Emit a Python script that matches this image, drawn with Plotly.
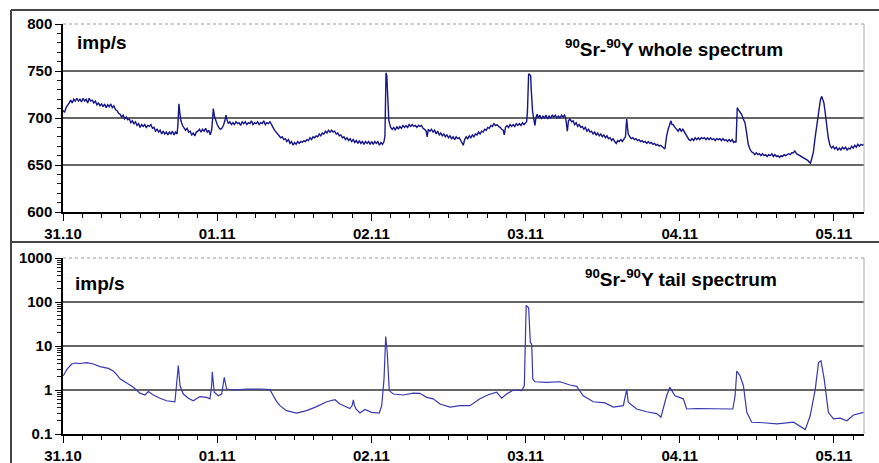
import pandas as pd
import plotly.graph_objects as go

# ---- data: time in days since 31.10 00:00, counts in imp/s ----
start_date = "2009-10-31"
n_days_shown = 5.195
day_fmt = "%d.%m"

# 90Sr-90Y whole spectrum (day, imp/s)
whole_series = [
    (0.000, 708), (0.010, 706), (0.020, 711), (0.030, 713), (0.040, 716), (0.050, 719),
    (0.060, 716), (0.070, 720), (0.080, 718), (0.090, 721), (0.100, 718), (0.110, 720),
    (0.120, 717), (0.130, 721), (0.140, 718), (0.150, 720), (0.160, 716), (0.170, 721),
    (0.180, 718), (0.190, 719), (0.200, 716), (0.210, 718), (0.220, 714), (0.230, 716),
    (0.240, 713), (0.250, 715), (0.260, 712), (0.270, 715), (0.280, 711), (0.290, 714),
    (0.300, 712), (0.310, 715), (0.320, 711), (0.330, 713), (0.340, 709), (0.350, 708),
    (0.360, 705), (0.370, 704), (0.380, 701), (0.390, 703), (0.400, 699), (0.410, 701),
    (0.420, 698), (0.430, 699), (0.440, 695), (0.450, 697), (0.460, 694), (0.470, 696),
    (0.480, 692), (0.490, 694), (0.500, 690), (0.510, 693), (0.520, 691), (0.530, 693),
    (0.540, 690), (0.550, 692), (0.560, 691), (0.570, 693), (0.580, 689), (0.590, 690),
    (0.600, 686), (0.610, 688), (0.620, 685), (0.630, 687), (0.640, 683), (0.650, 686),
    (0.660, 683), (0.670, 685), (0.680, 682), (0.690, 685), (0.700, 683), (0.710, 686),
    (0.720, 682), (0.730, 685), (0.740, 683), (0.745, 692), (0.752, 715), (0.758, 705),
    (0.765, 697), (0.775, 692), (0.785, 690), (0.795, 687), (0.805, 689), (0.815, 685),
    (0.825, 686), (0.835, 682), (0.845, 684), (0.855, 681), (0.865, 685), (0.875, 686),
    (0.885, 688), (0.895, 685), (0.905, 688), (0.915, 686), (0.925, 689), (0.935, 685),
    (0.945, 687), (0.955, 682), (0.965, 688), (0.970, 700), (0.975, 710), (0.982, 702),
    (0.990, 697), (1.000, 693), (1.010, 690), (1.020, 688), (1.030, 689), (1.040, 692),
    (1.050, 697), (1.057, 703), (1.064, 698), (1.072, 694), (1.082, 696), (1.092, 693),
    (1.102, 695), (1.112, 693), (1.122, 696), (1.132, 694), (1.142, 695), (1.152, 692),
    (1.162, 696), (1.172, 694), (1.182, 696), (1.192, 693), (1.202, 695), (1.212, 694),
    (1.222, 697), (1.232, 693), (1.242, 695), (1.252, 694), (1.262, 696), (1.272, 693),
    (1.282, 695), (1.292, 694), (1.302, 697), (1.312, 693), (1.322, 695), (1.332, 694),
    (1.342, 696), (1.352, 692), (1.362, 690), (1.372, 687), (1.382, 685), (1.392, 683),
    (1.402, 681), (1.412, 679), (1.422, 680), (1.432, 677), (1.442, 678), (1.452, 675),
    (1.462, 677), (1.472, 673), (1.482, 675), (1.492, 671), (1.502, 674), (1.512, 672),
    (1.522, 675), (1.532, 673), (1.542, 675), (1.552, 674), (1.562, 676), (1.572, 675),
    (1.582, 677), (1.592, 676), (1.602, 679), (1.612, 677), (1.622, 680), (1.632, 679),
    (1.642, 681), (1.652, 680), (1.662, 683), (1.672, 681), (1.682, 684), (1.692, 683),
    (1.702, 686), (1.712, 684), (1.722, 687), (1.732, 685), (1.742, 687), (1.752, 685),
    (1.762, 686), (1.772, 683), (1.782, 684), (1.792, 681), (1.802, 682), (1.812, 679),
    (1.822, 680), (1.832, 677), (1.842, 679), (1.852, 676), (1.862, 678), (1.872, 675),
    (1.882, 677), (1.892, 674), (1.902, 676), (1.912, 673), (1.922, 676), (1.932, 673),
    (1.942, 675), (1.952, 672), (1.962, 675), (1.972, 673), (1.982, 675), (1.992, 672),
    (2.002, 675), (2.012, 672), (2.022, 675), (2.032, 673), (2.042, 675), (2.052, 671),
    (2.062, 674), (2.072, 672), (2.082, 675), (2.088, 681), (2.092, 720), (2.095, 748),
    (2.100, 745), (2.104, 728), (2.108, 710), (2.113, 698), (2.118, 694), (2.125, 690),
    (2.135, 688), (2.145, 690), (2.155, 687), (2.165, 691), (2.175, 688), (2.185, 691),
    (2.195, 689), (2.205, 692), (2.215, 690), (2.225, 692), (2.235, 690), (2.245, 693),
    (2.255, 691), (2.265, 693), (2.275, 691), (2.285, 692), (2.295, 690), (2.305, 692),
    (2.315, 691), (2.325, 692), (2.335, 689), (2.345, 688), (2.355, 686), (2.362, 680),
    (2.369, 688), (2.380, 686), (2.390, 688), (2.400, 685), (2.410, 687), (2.420, 683),
    (2.430, 686), (2.440, 682), (2.450, 684), (2.460, 681), (2.470, 683), (2.480, 680),
    (2.490, 682), (2.500, 679), (2.510, 681), (2.520, 678), (2.530, 680), (2.540, 677),
    (2.550, 680), (2.560, 678), (2.570, 679), (2.580, 676), (2.590, 674), (2.596, 671),
    (2.605, 677), (2.615, 680), (2.625, 678), (2.635, 681), (2.645, 679), (2.655, 682),
    (2.665, 680), (2.675, 683), (2.685, 682), (2.695, 685), (2.705, 683), (2.715, 686),
    (2.725, 685), (2.735, 688), (2.745, 687), (2.755, 690), (2.765, 689), (2.775, 692),
    (2.785, 691), (2.795, 694), (2.805, 692), (2.815, 693), (2.825, 691), (2.835, 690),
    (2.845, 688), (2.855, 687), (2.862, 682), (2.870, 690), (2.880, 692), (2.890, 690),
    (2.900, 693), (2.910, 691), (2.920, 693), (2.930, 691), (2.940, 694), (2.950, 692),
    (2.960, 694), (2.970, 692), (2.980, 695), (2.990, 693), (3.000, 695), (3.007, 696),
    (3.012, 706), (3.017, 740), (3.020, 747), (3.027, 746), (3.033, 745), (3.037, 730),
    (3.040, 716), (3.045, 708), (3.050, 702), (3.055, 695), (3.061, 692), (3.067, 700),
    (3.075, 704), (3.083, 700), (3.093, 703), (3.103, 699), (3.113, 702), (3.123, 700),
    (3.133, 703), (3.143, 699), (3.153, 702), (3.163, 700), (3.173, 703), (3.183, 701),
    (3.193, 703), (3.203, 700), (3.213, 702), (3.223, 700), (3.233, 703), (3.243, 701),
    (3.253, 703), (3.260, 700), (3.266, 688), (3.271, 686), (3.278, 697), (3.288, 699),
    (3.298, 696), (3.308, 697), (3.318, 693), (3.328, 695), (3.338, 691), (3.348, 693),
    (3.358, 690), (3.368, 691), (3.378, 688), (3.388, 690), (3.398, 686), (3.408, 688),
    (3.418, 685), (3.428, 686), (3.438, 683), (3.448, 685), (3.458, 682), (3.468, 684),
    (3.478, 681), (3.488, 683), (3.498, 680), (3.508, 682), (3.518, 679), (3.528, 681),
    (3.538, 678), (3.548, 679), (3.558, 676), (3.568, 678), (3.578, 675), (3.588, 673),
    (3.598, 676), (3.608, 675), (3.618, 677), (3.628, 675), (3.640, 678), (3.648, 680),
    (3.652, 690), (3.656, 699), (3.661, 690), (3.666, 683), (3.676, 680), (3.686, 678),
    (3.696, 679), (3.706, 677), (3.716, 678), (3.726, 676), (3.736, 677), (3.746, 675),
    (3.756, 676), (3.766, 674), (3.776, 675), (3.786, 673), (3.796, 675), (3.806, 673),
    (3.816, 674), (3.826, 672), (3.836, 673), (3.846, 671), (3.856, 672), (3.866, 670),
    (3.876, 671), (3.886, 669), (3.896, 668), (3.904, 667), (3.910, 675), (3.915, 681),
    (3.925, 688), (3.935, 694), (3.943, 697), (3.950, 693), (3.958, 693), (3.969, 690),
    (3.980, 688), (3.990, 686), (4.000, 689), (4.010, 686), (4.020, 688), (4.030, 685),
    (4.040, 683), (4.050, 679), (4.060, 677), (4.070, 676), (4.080, 678), (4.090, 676),
    (4.100, 679), (4.110, 677), (4.120, 679), (4.130, 677), (4.140, 679), (4.150, 678),
    (4.160, 679), (4.170, 677), (4.180, 679), (4.190, 677), (4.200, 679), (4.210, 677),
    (4.220, 678), (4.230, 676), (4.240, 678), (4.250, 677), (4.260, 678), (4.270, 676),
    (4.280, 678), (4.290, 676), (4.300, 677), (4.310, 675), (4.320, 677), (4.330, 675),
    (4.340, 677), (4.350, 674), (4.360, 675), (4.365, 674), (4.369, 700), (4.373, 711),
    (4.380, 709), (4.390, 706), (4.401, 704), (4.412, 699), (4.423, 695), (4.433, 685),
    (4.444, 672), (4.455, 667), (4.466, 664), (4.477, 663), (4.487, 661), (4.497, 663),
    (4.507, 661), (4.517, 662), (4.527, 660), (4.537, 662), (4.547, 660), (4.557, 661),
    (4.567, 659), (4.577, 661), (4.587, 660), (4.597, 662), (4.607, 659), (4.617, 661),
    (4.627, 659), (4.637, 660), (4.647, 658), (4.657, 660), (4.667, 659), (4.677, 661),
    (4.687, 660), (4.697, 661), (4.707, 662), (4.717, 661), (4.727, 663), (4.737, 663),
    (4.747, 665), (4.757, 662), (4.767, 661), (4.780, 660), (4.790, 659), (4.800, 658),
    (4.810, 657), (4.820, 656), (4.830, 655), (4.840, 653), (4.848, 652), (4.858, 658),
    (4.867, 664), (4.877, 678), (4.888, 692), (4.897, 705), (4.905, 713), (4.913, 720),
    (4.921, 723), (4.928, 719), (4.935, 716), (4.944, 705), (4.953, 692), (4.963, 679),
    (4.974, 671), (4.985, 668), (4.995, 670), (5.005, 667), (5.015, 669), (5.025, 666),
    (5.035, 668), (5.045, 666), (5.055, 669), (5.065, 667), (5.075, 669), (5.085, 666),
    (5.095, 668), (5.105, 667), (5.115, 670), (5.125, 668), (5.135, 671), (5.145, 669),
    (5.155, 672), (5.165, 670), (5.175, 672), (5.185, 671), (5.195, 672),
]

# 90Sr-90Y tail spectrum (day, imp/s)
tail_series = [
    (0.002, 2.1), (0.024, 2.9), (0.056, 3.9), (0.080, 4.1), (0.110, 4.0), (0.154, 4.2),
    (0.197, 3.9), (0.240, 3.4), (0.294, 3.1), (0.326, 2.7), (0.350, 2.2), (0.370, 1.8),
    (0.413, 1.44), (0.456, 1.15), (0.499, 0.85), (0.532, 0.77), (0.553, 0.92), (0.586, 0.77),
    (0.629, 0.65), (0.672, 0.57), (0.726, 0.54), (0.737, 1.25), (0.748, 3.6), (0.759, 1.25),
    (0.780, 0.81), (0.813, 0.65), (0.845, 0.57), (0.888, 0.71), (0.932, 0.68), (0.953, 0.63),
    (0.964, 1.25), (0.968, 2.6), (0.981, 0.89), (1.007, 0.74), (1.029, 0.81), (1.046, 1.94),
    (1.061, 1.05), (1.105, 1.0), (1.191, 1.05), (1.278, 1.05), (1.342, 1.02), (1.364, 0.74),
    (1.385, 0.55), (1.407, 0.44), (1.450, 0.34), (1.515, 0.30), (1.580, 0.34), (1.645, 0.42),
    (1.710, 0.54), (1.764, 0.60), (1.796, 0.48), (1.861, 0.38), (1.876, 0.45), (1.883, 0.60),
    (1.890, 0.45), (1.900, 0.37), (1.926, 0.30), (1.958, 0.36), (2.002, 0.31), (2.051, 0.30),
    (2.067, 0.44), (2.082, 1.77), (2.093, 16.4), (2.103, 7.1), (2.116, 0.97), (2.142, 0.81),
    (2.207, 0.77), (2.272, 0.85), (2.315, 0.84), (2.358, 0.68), (2.401, 0.63), (2.445, 0.48),
    (2.510, 0.41), (2.575, 0.44), (2.639, 0.44), (2.704, 0.63), (2.758, 0.78), (2.812, 0.89),
    (2.845, 0.65), (2.877, 0.81), (2.921, 1.0), (2.975, 0.97), (2.992, 1.25), (3.004, 84),
    (3.020, 74), (3.031, 12), (3.040, 11), (3.047, 1.77), (3.061, 1.54), (3.136, 1.49),
    (3.223, 1.54), (3.288, 1.30), (3.332, 1.21), (3.374, 0.74), (3.439, 0.54), (3.515, 0.51),
    (3.569, 0.41), (3.634, 0.44), (3.656, 1.02), (3.666, 0.53), (3.720, 0.37), (3.785, 0.32),
    (3.850, 0.29), (3.878, 0.24), (3.915, 0.74), (3.936, 1.15), (3.969, 0.74), (4.023, 0.63),
    (4.045, 0.37), (4.110, 0.38), (4.218, 0.38), (4.283, 0.37), (4.344, 0.37), (4.359, 0.74),
    (4.370, 2.7), (4.391, 2.1), (4.413, 1.25), (4.435, 0.31), (4.467, 0.185), (4.543, 0.18),
    (4.630, 0.17), (4.738, 0.185), (4.770, 0.16), (4.814, 0.126), (4.846, 0.26), (4.879, 1.05),
    (4.900, 4.2), (4.916, 4.6), (4.937, 1.77), (4.964, 0.31), (4.997, 0.22), (5.040, 0.23),
    (5.084, 0.20), (5.127, 0.27), (5.192, 0.31),
]

top_grid = [650, 700, 750]
tail_grid = [1, 10, 100]

base = pd.Timestamp(start_date)
def to_time(days):
    return [base + pd.to_timedelta(d, unit="D") for d in days]

whole_days = [d for d, _ in whole_series]
whole_cps = [v for _, v in whole_series]
tail_days = [d for d, _ in tail_series]
tail_cps = [v for _, v in tail_series]

W, H = 879, 463
X0, X1 = 63, 864
TOP_Y0, TOP_Y1 = 24, 212
BOT_Y0, BOT_Y1 = 258, 434

def py(p):
    return 1 - p / H

fnt = "Liberation Sans, Arial, sans-serif"

fig = go.Figure()
fig.add_trace(go.Scatter(x=to_time(whole_days), y=whole_cps, mode="lines",
                         line=dict(color="#15158a", width=1.4),
                         xaxis="x", yaxis="y", showlegend=False))
fig.add_trace(go.Scatter(x=to_time(tail_days), y=tail_cps, mode="lines",
                         line=dict(color="#3838b0", width=1.2),
                         xaxis="x2", yaxis="y2", showlegend=False))

x_end = base + pd.to_timedelta(n_days_shown, unit="D")
xcommon = dict(type="date", range=[base, x_end], domain=[X0 / W, X1 / W],
               tickmode="linear", tick0=base, dtick=86400000, tickformat=day_fmt,
               ticks="outside", ticklen=7, tickwidth=1.3,
               tickcolor="black", showline=True, linecolor="black", linewidth=1.5,
               showgrid=False, zeroline=False, automargin=False,
               minor=dict(dtick=3 * 3600 * 1000, tick0=base, ticks="outside", ticklen=4,
                          tickcolor="black", tickwidth=1, showgrid=False),
               tickfont=dict(family=fnt, size=15, color="black", weight="bold"))

fig.update_layout(
    width=W, height=H, margin=dict(l=0, r=0, t=0, b=0, pad=0),
    paper_bgcolor="white", plot_bgcolor="white",
    xaxis=dict(anchor="y", **xcommon),
    xaxis2=dict(anchor="y2", **xcommon),
    yaxis=dict(anchor="x", range=[600, 800], domain=[py(TOP_Y1), py(TOP_Y0)],
               tickmode="linear", tick0=600, dtick=50, ticks="outside", ticklen=6,
               tickwidth=1.3,
               tickcolor="black", showline=True, linecolor="black", linewidth=1.5,
               showgrid=False, zeroline=False, automargin=False,
               minor=dict(dtick=10, ticks="outside", ticklen=4, tickcolor="#222",
                          tickwidth=1, showgrid=False),
               tickfont=dict(family=fnt, size=15, color="black", weight="bold")),
    yaxis2=dict(anchor="x2", type="log", range=[-1, 3],
                domain=[py(BOT_Y1), py(BOT_Y0)],
                tickmode="linear", tick0=0, dtick=1, exponentformat="none",
                ticks="outside", ticklen=6, tickwidth=1.3, tickcolor="black", showline=True,
                linecolor="black", linewidth=1.5, showgrid=False, zeroline=False,
                automargin=False,
                minor=dict(ticks="outside", ticklen=4, tickcolor="#222", tickwidth=1,
                           showgrid=False, dtick="D1"),
                tickfont=dict(family=fnt, size=15, color="black", weight="bold")),
)

shapes = []
for v in top_grid:
    shapes.append(dict(type="line", xref="x domain", x0=0, x1=1, yref="y", y0=v, y1=v,
                       line=dict(color="#333", width=1.5), layer="below"))
for v in tail_grid:
    shapes.append(dict(type="line", xref="x2 domain", x0=0, x1=1, yref="y2", y0=v, y1=v,
                       line=dict(color="#333", width=1.5), layer="below"))
for xa, ya in (("x", "y"), ("x2", "y2")):
    shapes.append(dict(type="line", xref=xa + " domain", x0=0, x1=1, yref=ya + " domain",
                       y0=1, y1=1, line=dict(color="#999", width=1, dash="dot")))
    shapes.append(dict(type="line", xref=xa + " domain", x0=1, x1=1, yref=ya + " domain",
                       y0=0, y1=1, line=dict(color="#aaa", width=1)))
# outer frame
shapes.append(dict(type="line", xref="paper", yref="paper", x0=11 / W, x1=1,
                   y0=py(10), y1=py(10), line=dict(color="#444", width=2)))
shapes.append(dict(type="line", xref="paper", yref="paper", x0=11 / W, x1=1,
                   y0=py(242), y1=py(242), line=dict(color="#444", width=2)))
shapes.append(dict(type="line", xref="paper", yref="paper", x0=11 / W, x1=11 / W,
                   y0=0, y1=py(10), line=dict(color="#444", width=2)))
fig.update_layout(shapes=shapes)

ann_font = dict(family=fnt, size=19, color="black", weight="bold")
ttl_font = dict(family=fnt, size=19, color="black", weight="bold")
fig.add_annotation(xref="paper", yref="paper", x=75 / W, y=py(43), text="imp/s",
                   showarrow=False, xanchor="left", yanchor="middle", font=ann_font)
fig.add_annotation(xref="paper", yref="paper", x=73 / W, y=py(283), text="imp/s",
                   showarrow=False, xanchor="left", yanchor="middle", font=ann_font)
fig.add_annotation(xref="paper", yref="paper", x=563 / W, y=py(48),
                   text="<sup>90</sup>Sr-<sup>90</sup>Y whole spectrum",
                   showarrow=False, xanchor="left", yanchor="middle", font=ttl_font)
fig.add_annotation(xref="paper", yref="paper", x=583 / W, y=py(278),
                   text="<sup>90</sup>Sr-<sup>90</sup>Y tail spectrum",
                   showarrow=False, xanchor="left", yanchor="middle", font=ttl_font)

fig.write_html("out.html")
